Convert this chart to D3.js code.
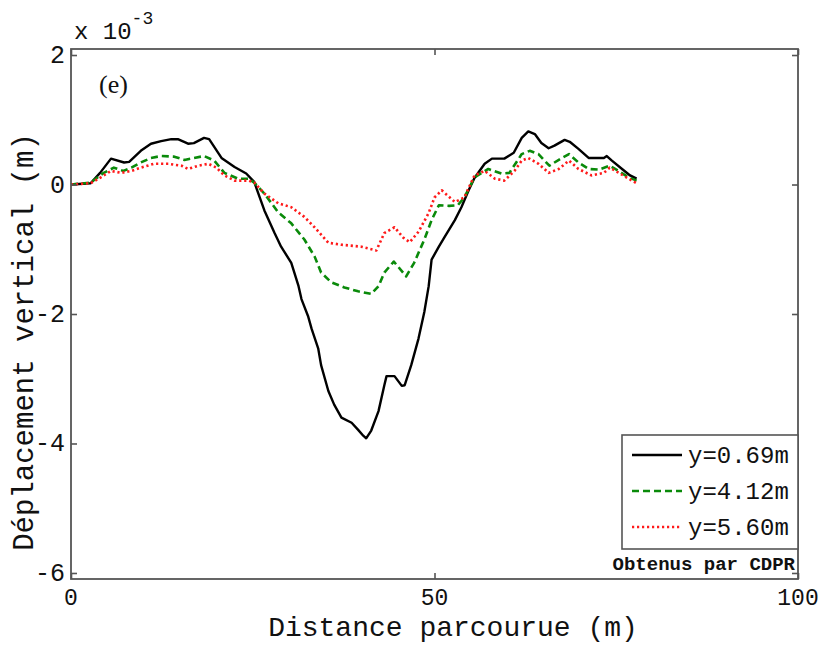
<!DOCTYPE html>
<html>
<head>
<meta charset="utf-8">
<script src="https://cdn.jsdelivr.net/npm/d3@7"></script>
<style>
  html, body { margin: 0; padding: 0; background: #fff; }
  svg { display: block; }
</style>
</head>
<body>
<svg id="chart" width="825" height="646"></svg>
<script>
// Distance travelled (m) and vertical displacement (x 1e-3 m) for each line
const xA = [0, 2.7, 4, 5.5, 7.3, 8.0, 9.6, 11.0, 12.4, 13.8, 14.7, 16.1, 16.9, 18.3, 19.0, 20.7, 22.5, 24.1, 25.2, 26.6, 28.0, 28.9, 30.3, 31.3, 31.7, 32.6, 33.1, 34.0, 34.4, 35.4, 36.2, 37.2, 38.6, 39.5, 40.2, 40.6, 41.3, 42.3, 43.1, 43.4, 44.5, 45.5, 45.9, 46.8, 47.8, 48.6, 49.2, 49.6, 50.6, 51.4, 52.8, 53.7, 54.7, 55.5, 56.9, 57.9, 59.6, 60.9, 62.0, 62.9, 63.8, 64.7, 65.7, 66.5, 67.9, 68.6, 69.8, 71.2, 73.3, 73.7, 74.4, 75.8, 76.9, 77.8];
const yA = [0, 0.02, 0.18, 0.40, 0.34, 0.35, 0.52, 0.63, 0.67, 0.70, 0.70, 0.63, 0.64, 0.72, 0.70, 0.41, 0.27, 0.17, 0.04, -0.40, -0.75, -0.96, -1.21, -1.57, -1.77, -2.03, -2.23, -2.53, -2.79, -3.19, -3.40, -3.60, -3.68, -3.79, -3.88, -3.92, -3.80, -3.50, -3.10, -2.96, -2.96, -3.11, -3.10, -2.79, -2.38, -1.97, -1.57, -1.16, -0.96, -0.81, -0.55, -0.35, -0.09, 0.10, 0.32, 0.40, 0.40, 0.49, 0.72, 0.82, 0.78, 0.64, 0.56, 0.60, 0.69, 0.66, 0.55, 0.41, 0.41, 0.44, 0.37, 0.24, 0.14, 0.09];

const xB = [0, 2.7, 4.5, 5.9, 7.2, 8.3, 9.6, 11.0, 12.4, 14.2, 15.6, 16.9, 18.3, 19.7, 21.1, 23.0, 24.4, 25.2, 26.6, 28.5, 30.3, 32.1, 33.5, 34.4, 35.8, 37.6, 39.5, 41.3, 42.3, 43.1, 44.4, 45.0, 46.1, 47.2, 48.6, 49.6, 50.6, 52.0, 53.2, 54.1, 55.5, 57.4, 59.2, 60.3, 62.0, 63.1, 64.3, 65.8, 67.5, 68.5, 69.8, 71.2, 72.6, 74.1, 75.3, 76.7, 77.8];
const yB = [0, 0.03, 0.18, 0.26, 0.21, 0.26, 0.34, 0.41, 0.44, 0.43, 0.38, 0.41, 0.44, 0.37, 0.18, 0.09, 0.09, 0.03, -0.14, -0.43, -0.60, -0.85, -1.11, -1.36, -1.51, -1.59, -1.65, -1.69, -1.57, -1.36, -1.19, -1.27, -1.42, -1.21, -0.85, -0.55, -0.32, -0.33, -0.32, -0.20, 0.11, 0.24, 0.17, 0.18, 0.47, 0.52, 0.47, 0.29, 0.41, 0.47, 0.34, 0.24, 0.23, 0.29, 0.21, 0.11, 0.06];

const xC = [0, 2.7, 4.1, 5.5, 6.9, 8.3, 9.6, 11.4, 13.4, 15.2, 16.1, 17.5, 18.9, 20.0, 21.1, 22.5, 24.4, 25.2, 26.6, 28.5, 30.3, 32.1, 33.5, 35.4, 37.2, 39.9, 42.0, 43.1, 44.5, 45.7, 46.6, 47.8, 49.2, 50.0, 51.0, 52.3, 52.8, 54.1, 55.5, 56.9, 58.3, 59.6, 61.0, 62.0, 62.9, 64.3, 65.7, 67.1, 68.5, 69.8, 71.6, 73.3, 74.1, 75.5, 76.7, 77.8];
const yC = [0, 0.02, 0.11, 0.21, 0.18, 0.21, 0.26, 0.32, 0.32, 0.29, 0.24, 0.29, 0.32, 0.26, 0.14, 0.06, 0.06, 0.03, -0.14, -0.29, -0.35, -0.50, -0.66, -0.90, -0.93, -0.96, -1.02, -0.75, -0.66, -0.82, -0.89, -0.73, -0.44, -0.20, -0.09, -0.22, -0.27, -0.20, 0.14, 0.21, 0.09, 0.06, 0.21, 0.37, 0.41, 0.32, 0.18, 0.24, 0.37, 0.24, 0.14, 0.18, 0.26, 0.17, 0.09, 0.02];

const seriesNames = ["y=0.69m", "y=4.12m", "y=5.60m"];
const xTicks = [0, 50, 100];
const yTicks = [2, 0, -2, -4, -6];

const series = [
  { name: seriesNames[0], xs: xA, ys: yA, color: "#000000", dash: null },
  { name: seriesNames[1], xs: xB, ys: yB, color: "#0a8a0a", dash: "7,4" },
  { name: seriesNames[2], xs: xC, ys: yC, color: "#ff1a1a", dash: "2.2,2.8" }
];

const svg = d3.select("#chart");
const L = 71, R = 798, T = 49, B = 579;

const x = d3.scaleLinear().domain([0, 100]).range([L, R]);
const y = d3.scaleLinear().domain([-6.093, 2.093]).range([B, T]);

const mono = "'Liberation Mono', 'DejaVu Sans Mono', monospace";
const axisColor = "#555";

// Lines
const line = d3.line().x(d => x(d[0])).y(d => y(d[1]));
const plot = svg.append("g");
series.forEach(s => {
  const pts = s.xs.map((v, i) => [v, s.ys[i]]);
  plot.append("path")
    .datum(pts)
    .attr("fill", "none")
    .attr("stroke", s.color)
    .attr("stroke-width", s.dash ? 2.6 : 2.4)
    .attr("stroke-linejoin", "round")
    .attr("stroke-dasharray", s.dash)
    .attr("d", line);
});

// Axes with inward ticks on all four sides
function styleAxis(g) {
  g.select(".domain").remove();
  g.selectAll(".tick line").attr("stroke", axisColor).attr("stroke-width", 1.6);
  g.selectAll("text").remove();
}
svg.append("g").attr("transform", `translate(0,${B})`)
  .call(d3.axisBottom(x).tickValues(xTicks).tickSize(-6)).call(styleAxis);
svg.append("g").attr("transform", `translate(0,${T})`)
  .call(d3.axisTop(x).tickValues(xTicks).tickSize(-6)).call(styleAxis);
svg.append("g").attr("transform", `translate(${L},0)`)
  .call(d3.axisLeft(y).tickValues(yTicks).tickSize(-6)).call(styleAxis);
svg.append("g").attr("transform", `translate(${R},0)`)
  .call(d3.axisRight(y).tickValues(yTicks).tickSize(-6)).call(styleAxis);

// Frame
svg.append("rect")
  .attr("x", L).attr("y", T).attr("width", R - L).attr("height", B - T)
  .attr("fill", "none").attr("stroke", axisColor).attr("stroke-width", 1.8);

// Tick labels
svg.append("g").selectAll("text").data(xTicks).join("text")
  .attr("x", d => x(d)).attr("y", B + 26)
  .attr("text-anchor", "middle")
  .attr("font-family", mono).attr("font-size", 23).attr("fill", "#111")
  .text(d => d);
svg.append("g").selectAll("text").data(yTicks).join("text")
  .attr("x", L - 6).attr("y", d => y(d) + 8)
  .attr("text-anchor", "end")
  .attr("font-family", mono).attr("font-size", 25).attr("fill", "#111")
  .text(d => d < 0 ? "-" + Math.abs(d) : d);

// Exponent
const expo = svg.append("text").attr("x", 74).attr("y", 39)
  .attr("font-family", mono).attr("font-size", 24).attr("fill", "#111");
expo.append("tspan").text("x 10");
expo.append("tspan").attr("dy", -15).attr("font-size", 18).text("-3");

// Axis titles
svg.append("text")
  .attr("x", 453).attr("y", 636)
  .attr("text-anchor", "middle")
  .attr("font-family", mono).attr("font-size", 28).attr("fill", "#111")
  .text("Distance parcourue (m)");
svg.append("text")
  .attr("transform", "translate(33,342) rotate(-90)")
  .attr("text-anchor", "middle")
  .attr("font-family", mono).attr("font-size", 29).attr("fill", "#111")
  .text("Déplacement vertical (m)");

// Panel tag
svg.append("text")
  .attr("x", 99).attr("y", 93)
  .attr("font-family", "'Liberation Serif', 'DejaVu Serif', serif")
  .attr("font-size", 26).attr("fill", "#111")
  .text("(e)");

// Legend
const lg = svg.append("g");
lg.append("rect")
  .attr("x", 622).attr("y", 435).attr("width", R - 622).attr("height", 114)
  .attr("fill", "#fff").attr("stroke", axisColor).attr("stroke-width", 1.6);
series.forEach((s, i) => {
  const cy = 455 + i * 36;
  lg.append("line")
    .attr("x1", 632).attr("x2", 682).attr("y1", cy).attr("y2", cy)
    .attr("stroke", s.color).attr("stroke-width", 2.6)
    .attr("stroke-dasharray", s.dash);
  lg.append("text")
    .attr("x", 688).attr("y", cy + 8)
    .attr("font-family", mono).attr("font-size", 24).attr("fill", "#111")
    .text(s.name);
});

// Source note
svg.append("text")
  .attr("x", 795).attr("y", 570)
  .attr("text-anchor", "end")
  .attr("font-family", mono).attr("font-size", 19).attr("font-weight", "bold")
  .attr("fill", "#111")
  .text("Obtenus par CDPR");
</script>
</body>
</html>
